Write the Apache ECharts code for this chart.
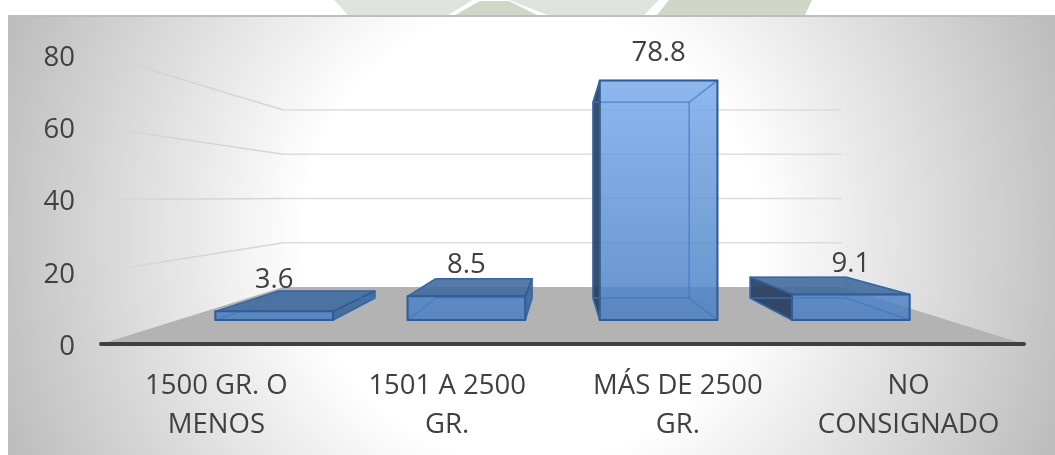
<!DOCTYPE html>
<html>
<head>
<meta charset="utf-8">
<style>html,body{margin:0;padding:0;background:#fff}#c{width:1055px;height:455px}</style>
<script src="https://cdn.jsdelivr.net/npm/echarts@6/dist/echarts.min.js"></script>
</head>
<body>
<div id="c"></div>
<script>
const categories = ['1500 GR. O\nMENOS', '1501 A 2500\nGR.', 'MÁS DE 2500\nGR.', 'NO\nCONSIGNADO'];
const values = [3.6, 8.5, 78.8, 9.1];
const yTicks = [0, 20, 40, 60, 80];

// perspective of the 3D plot
const VP = [562.5, 200], WALL_VP_Y = 197, WALL_DEPTH_X = 0.605, WALL_DEPTH_Y = 0.6125;
const FRONT = 0.85, BACK = 0.695, LABEL_DEPTH = 0.835, LABEL_GAP = 29, X_SQUASH = 0.98, BAR_FRACTION = 0.6, BAR_BASE_VALUE = 0.78;
const FONT_FAMILY = '"Open Sans", sans-serif', FONT_SIZE = 27.5, TEXT = '#404040';
const proj = (p, s) => [VP[0] + s * (p[0] - VP[0]), VP[1] + s * (p[1] - VP[1])];
const wallProj = p => [VP[0] + WALL_DEPTH_X * (p[0] - VP[0]), WALL_VP_Y + WALL_DEPTH_Y * (p[1] - WALL_VP_Y)];

const frontFill = new echarts.graphic.LinearGradient(0, 80, 0, 320,
  [{ offset: 0, color: 'rgba(120,171,236,0.8)' }, { offset: 1, color: 'rgba(71,125,194,0.8)' }], true);
const EDGE = '#2f5d97', INNER_EDGE = 'rgba(65,120,195,0.42)';

function poly(points, fill, stroke, lw) {
  return { type: 'polygon', shape: { points }, style: { fill, stroke, lineWidth: lw, lineJoin: 'round' } };
}

function renderWalls(params, api) {
  const cs = params.coordSys, v = api.value(1), y = api.coord([0, v])[1];
  const L = cs.x, R = cs.x + cs.width;
  const bl = wallProj([L, y]), br = wallProj([R, y]);
  if (v === 0) {
    return poly([[L, y], [R, y], br, bl], '#b3b3b3', 'none', 0);
  }
  const fade = new echarts.graphic.LinearGradient(L, 0, bl[0], 0,
    [{ offset: 0, color: 'rgba(208,208,208,0)' }, { offset: 0.35, color: 'rgba(208,208,208,0.8)' }, { offset: 1, color: 'rgba(214,214,214,1)' }], true);
  return { type: 'group', children: [
    { type: 'line', shape: { x1: L, y1: y, x2: bl[0], y2: bl[1] }, style: { stroke: fade, lineWidth: 1.5 } },
    { type: 'line', shape: { x1: bl[0], y1: bl[1], x2: br[0], y2: br[1] }, style: { stroke: '#dcdcdc', lineWidth: 1.5 } }
  ] };
}

function renderBar(params, api) {
  const c = api.coord([api.value(0), api.value(1)]);
  const base = api.coord([api.value(0), BAR_BASE_VALUE])[1];
  const hw = api.size([1, 0])[0] * BAR_FRACTION / 2;
  const cx = VP[0] + X_SQUASH * (c[0] - VP[0]);
  const x0 = cx - hw, x1 = cx + hw, top = c[1];
  const f = p => proj(p, FRONT), b = p => proj(p, BACK);
  const fbl = f([x0, base]), fbr = f([x1, base]), ftr = f([x1, top]), ftl = f([x0, top]);
  const bbl = b([x0, base]), bbr = b([x1, base]), btr = b([x1, top]), btl = b([x0, top]);

  const leftFace = [fbl, ftl, btl, bbl], rightFace = [fbr, ftr, btr, bbr], topFace = [ftl, ftr, btr, btl];
  const bottomFace = [fbl, fbr, bbr, bbl], backFace = [bbl, bbr, btr, btl];
  const leftOut = bbl[0] < fbl[0], rightOut = bbr[0] > fbr[0], topOut = btl[1] < ftl[1];
  const hiddenFaces = [bottomFace, backFace];
  if (!leftOut) hiddenFaces.push(leftFace);
  if (!rightOut) hiddenFaces.push(rightFace);
  if (!topOut) hiddenFaces.push(topFace);

  const ch = [];
  hiddenFaces.forEach(pts => ch.push(poly(pts, 'rgba(95,140,205,0.16)', 'none', 0)));
  if (leftOut) ch.push(poly(leftFace, 'rgba(38,60,92,0.9)', EDGE, 1.5));
  if (rightOut) ch.push(poly(rightFace, 'rgba(58,98,148,0.86)', EDGE, 1.5));
  if (topOut) ch.push(poly(topFace, 'rgba(62,104,152,0.86)', EDGE, 1.5));
  ch.push(poly([fbl, fbr, ftr, ftl], frontFill, 'none', 0));
  hiddenFaces.forEach(pts => ch.push(poly(pts, 'none', INNER_EDGE, 1.5)));
  ch.push(poly([fbl, fbr, ftr, ftl], 'none', EDGE, 2));
  ch.push({ type: 'text', x: (ftl[0] + ftr[0]) / 2, y: VP[1] + LABEL_DEPTH * (top - VP[1]) - LABEL_GAP,
    style: { text: String(api.value(1)), fill: TEXT, fontFamily: FONT_FAMILY, fontSize: FONT_SIZE, align: 'center', verticalAlign: 'middle' } });
  return { type: 'group', children: ch };
}

const chart = echarts.init(document.getElementById('c'), null, { renderer: 'canvas' });
chart.setOption({
  animation: false,
  backgroundColor: '#fff',
  graphic: { elements: [
    { type: 'polygon', z: -20, silent: true, shape: { points: [[334, 0], [473, 0], [448, 15], [348, 15]] }, style: { fill: '#dfe3de' } },
    { type: 'polygon', z: -20, silent: true, shape: { points: [[509, 0], [659, 0], [644, 15], [548, 15]] }, style: { fill: '#dfe3de' } },
    { type: 'polygon', z: -20, silent: true, shape: { points: [[480, 1], [509, 1], [537, 15], [455, 15]] }, style: { fill: '#d0d6c8' } },
    { type: 'polygon', z: -20, silent: true, shape: { points: [[669, 0], [812, 0], [805, 15], [657, 15]] }, style: { fill: '#d0d6c8' } },
    { type: 'rect', z: -10, silent: true, shape: { x: 8, y: 16, width: 1047, height: 439 },
      style: { fill: new echarts.graphic.RadialGradient(531, 235, 566,
        [{ offset: 0, color: '#ffffff' }, { offset: 0.4, color: '#ffffff' }, { offset: 1, color: '#bcbcbc' }], true) } },
    { type: 'rect', z: -9, silent: true, shape: { x: 8, y: 15, width: 1047, height: 2 }, style: { fill: '#bdbdbd' } }
  ] },
  grid: { left: 101, right: 31, top: 55, bottom: 111 },
  xAxis: { type: 'category', data: categories, z: 3,
    axisLine: { lineStyle: { color: '#404040', width: 4 } }, axisTick: { show: false },
    axisLabel: { fontFamily: FONT_FAMILY, fontSize: FONT_SIZE, color: TEXT, margin: 23, lineHeight: 39, interval: 0 } },
  yAxis: { type: 'value', min: 0, max: 80, interval: 20,
    axisLine: { show: false }, axisTick: { show: false }, splitLine: { show: false },
    axisLabel: { fontFamily: FONT_FAMILY, fontSize: FONT_SIZE, color: TEXT, margin: 26, verticalAlign: 'top', lineHeight: 6 } },
  series: [
    { type: 'custom', name: 'walls', z: 1, clip: false, silent: true, renderItem: renderWalls,
      encode: { x: 0, y: 1 }, data: yTicks.map(v => [0, v]) },
    { type: 'custom', name: 'bars', z: 5, clip: false, silent: true, renderItem: renderBar,
      encode: { x: 0, y: 1 }, data: values.map((v, i) => [i, v]) }
  ]
});
</script>
</body>
</html>
